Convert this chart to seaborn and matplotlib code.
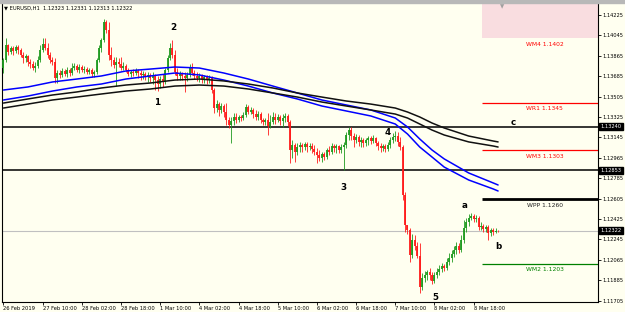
import numpy as np
import pandas as pd
import seaborn as sns
from matplotlib import pyplot as plt
from matplotlib.patches import Rectangle

# EURUSD H1 candles (bar 0 = 26 Feb 2019 18:00)
first_open = 1.13757
close = [
    1.13828, 1.13960, 1.13898, 1.13934, 1.13907, 1.13943, 1.13916, 1.13872, 1.13846, 1.13863,
    1.13810, 1.13793, 1.13757, 1.13775, 1.13828, 1.13916, 1.13969, 1.13934, 1.13872, 1.13828,
    1.13810, 1.13669, 1.13713, 1.13696, 1.13731, 1.13704, 1.13740, 1.13713, 1.13757, 1.13775,
    1.13740, 1.13766, 1.13740, 1.13749, 1.13722, 1.13740, 1.13704, 1.13722, 1.13828, 1.13934,
    1.14004, 1.14163, 1.14093, 1.13872, 1.13828, 1.13784, 1.13810, 1.13793, 1.13757, 1.13775,
    1.13740, 1.13704, 1.13722, 1.13713, 1.13731, 1.13713, 1.13696, 1.13704, 1.13687, 1.13696,
    1.13669, 1.13687, 1.13651, 1.13616, 1.13660, 1.13634, 1.13740, 1.13846, 1.13934, 1.13872,
    1.13722, 1.13687, 1.13704, 1.13687, 1.13669, 1.13696, 1.13757, 1.13713, 1.13687, 1.13669,
    1.13687, 1.13660, 1.13678, 1.13651, 1.13669, 1.13563, 1.13405, 1.13439, 1.13387, 1.13422,
    1.13369, 1.13299, 1.13254, 1.13290, 1.13325, 1.13299, 1.13325, 1.13316, 1.13343, 1.13413,
    1.13369, 1.13387, 1.13351, 1.13325, 1.13351, 1.13299, 1.13281, 1.13299, 1.13246, 1.13281,
    1.13325, 1.13299, 1.13325, 1.13290, 1.13316, 1.13334, 1.13281, 1.13034, 1.13078, 1.13016,
    1.13060, 1.13078, 1.13060, 1.13087, 1.13060, 1.13069, 1.13043, 1.13016, 1.12990, 1.12963,
    1.12999, 1.12972, 1.13034, 1.13016, 1.13069, 1.13052, 1.13069, 1.13034, 1.13060, 1.13078,
    1.13166, 1.13210, 1.13157, 1.13122, 1.13149, 1.13105, 1.13122, 1.13096, 1.13122, 1.13140,
    1.13113, 1.13140, 1.13096, 1.13069, 1.13052, 1.13069, 1.13043, 1.13078, 1.13122, 1.13149,
    1.13157, 1.13105, 1.13060, 1.12637, 1.12372, 1.12328, 1.12107, 1.12240, 1.12187, 1.12098,
    1.11825, 1.11904, 1.11931, 1.11957, 1.11931, 1.11878, 1.11931, 1.11957, 1.11984, 1.12010,
    1.11992, 1.12045, 1.12081, 1.12116, 1.12151, 1.12187, 1.12151, 1.12240, 1.12346, 1.12398,
    1.12434, 1.12451, 1.12425, 1.12434, 1.12354, 1.12363, 1.12337, 1.12354, 1.12302, 1.12328,
    1.12310, 1.12323, 1.12322,
]
high = [
    1.13846, 1.14022, 1.13969, 1.13951, 1.13951, 1.13960, 1.13960, 1.13934, 1.13898, 1.13881,
    1.13872, 1.13837, 1.13819, 1.13810, 1.13863, 1.13960, 1.14022, 1.14022, 1.13978, 1.13898,
    1.13854, 1.13846, 1.13740, 1.13740, 1.13757, 1.13749, 1.13766, 1.13757, 1.13801, 1.13801,
    1.13793, 1.13793, 1.13784, 1.13775, 1.13766, 1.13757, 1.13757, 1.13740, 1.13846, 1.13960,
    1.14022, 1.14190, 1.14181, 1.14163, 1.13943, 1.13854, 1.13854, 1.13846, 1.13854, 1.13810,
    1.13793, 1.13757, 1.13740, 1.13749, 1.13757, 1.13749, 1.13740, 1.13731, 1.13722, 1.13722,
    1.13713, 1.13722, 1.13704, 1.13687, 1.13687, 1.13704, 1.13757, 1.13872, 1.13978, 1.14004,
    1.13916, 1.13757, 1.13731, 1.13722, 1.13722, 1.13722, 1.13793, 1.13801, 1.13740, 1.13722,
    1.13713, 1.13704, 1.13696, 1.13696, 1.13696, 1.13687, 1.13581, 1.13475, 1.13457, 1.13448,
    1.13439, 1.13448, 1.13325, 1.13325, 1.13360, 1.13360, 1.13343, 1.13343, 1.13369, 1.13439,
    1.13431, 1.13413, 1.13404, 1.13387, 1.13378, 1.13369, 1.13316, 1.13316, 1.13360, 1.13343,
    1.13369, 1.13360, 1.13351, 1.13343, 1.13351, 1.13360, 1.13351, 1.13299, 1.13122, 1.13096,
    1.13096, 1.13105, 1.13096, 1.13105, 1.13105, 1.13096, 1.13096, 1.13078, 1.13052, 1.13034,
    1.13016, 1.13016, 1.13052, 1.13069, 1.13096, 1.13087, 1.13087, 1.13078, 1.13087, 1.13105,
    1.13193, 1.13237, 1.13237, 1.13184, 1.13175, 1.13166, 1.13149, 1.13140, 1.13140, 1.13157,
    1.13157, 1.13166, 1.13149, 1.13113, 1.13096, 1.13087, 1.13087, 1.13105, 1.13149, 1.13184,
    1.13202, 1.13193, 1.13149, 1.13078, 1.12663, 1.12372, 1.12346, 1.12293, 1.12284, 1.12222,
    1.12213, 1.11948, 1.11966, 1.11975, 1.11992, 1.11957, 1.11957, 1.11992, 1.12019, 1.12037,
    1.12028, 1.12081, 1.12125, 1.12151, 1.12187, 1.12222, 1.12213, 1.12284, 1.12416, 1.12434,
    1.12469, 1.12478, 1.12469, 1.12460, 1.12451, 1.12398, 1.12381, 1.12372, 1.12372, 1.12346,
    1.12346, 1.12346, 1.12331,
]
low = [
    1.13713, 1.13810, 1.13872, 1.13881, 1.13872, 1.13890, 1.13881, 1.13854, 1.13801, 1.13810,
    1.13775, 1.13757, 1.13740, 1.13722, 1.13757, 1.13810, 1.13898, 1.13916, 1.13846, 1.13801,
    1.13784, 1.13625, 1.13625, 1.13669, 1.13678, 1.13687, 1.13678, 1.13687, 1.13696, 1.13740,
    1.13722, 1.13713, 1.13722, 1.13713, 1.13704, 1.13704, 1.13678, 1.13678, 1.13704, 1.13810,
    1.13898, 1.13987, 1.14066, 1.13828, 1.13775, 1.13757, 1.13598, 1.13766, 1.13740, 1.13740,
    1.13722, 1.13687, 1.13678, 1.13687, 1.13696, 1.13669, 1.13651, 1.13660, 1.13651, 1.13634,
    1.13634, 1.13616, 1.13563, 1.13554, 1.13581, 1.13590, 1.13616, 1.13722, 1.13828, 1.13846,
    1.13696, 1.13651, 1.13651, 1.13651, 1.13546, 1.13643, 1.13678, 1.13696, 1.13660, 1.13643,
    1.13634, 1.13625, 1.13625, 1.13616, 1.13625, 1.13537, 1.13360, 1.13369, 1.13334, 1.13360,
    1.13325, 1.13254, 1.13228, 1.13096, 1.13254, 1.13272, 1.13281, 1.13290, 1.13299, 1.13325,
    1.13351, 1.13351, 1.13316, 1.13299, 1.13299, 1.13272, 1.13254, 1.13254, 1.13166, 1.13228,
    1.13263, 1.13263, 1.13281, 1.13254, 1.13237, 1.13281, 1.13246, 1.12919, 1.12963, 1.12928,
    1.12990, 1.13016, 1.13016, 1.13034, 1.13016, 1.13034, 1.13008, 1.12990, 1.12919, 1.12937,
    1.12928, 1.12946, 1.12955, 1.12990, 1.12999, 1.13016, 1.13008, 1.13008, 1.13008, 1.12857,
    1.13052, 1.13122, 1.13122, 1.13060, 1.13096, 1.13069, 1.13060, 1.13060, 1.13069, 1.13078,
    1.13087, 1.13096, 1.13069, 1.13034, 1.13016, 1.13025, 1.13016, 1.13025, 1.13052, 1.13096,
    1.13113, 1.13069, 1.13034, 1.12593, 1.12310, 1.12293, 1.12045, 1.12081, 1.12151, 1.12081,
    1.11772, 1.11799, 1.11869, 1.11887, 1.11887, 1.11852, 1.11860, 1.11904, 1.11931, 1.11957,
    1.11966, 1.11975, 1.12019, 1.12045, 1.12089, 1.12116, 1.12125, 1.12134, 1.12213, 1.12310,
    1.12363, 1.12416, 1.12398, 1.12398, 1.12328, 1.12328, 1.12310, 1.12310, 1.12240, 1.12275,
    1.12284, 1.12302, 1.12313,
]

# moving average bands, read at a few bars
ma_bars = [0, 10, 20, 30, 40, 50, 60, 70, 80, 90, 100, 110, 120, 130, 140, 150, 160, 165, 170, 175, 180, 190, 200, 202]
blue_up = [1.13563, 1.13590, 1.13634, 1.13660, 1.13687, 1.13731, 1.13748, 1.13766, 1.13757, 1.13713, 1.13660, 1.13598,
           1.13537, 1.13475, 1.13431, 1.13387, 1.13316, 1.13237, 1.13131, 1.13034, 1.12955, 1.12831, 1.12743, 1.12725]
blue_lo = [1.13475, 1.13510, 1.13554, 1.13590, 1.13616, 1.13660, 1.13687, 1.13713, 1.13696, 1.13651, 1.13598, 1.13537,
           1.13484, 1.13422, 1.13378, 1.13334, 1.13263, 1.13175, 1.13060, 1.12972, 1.12883, 1.12769, 1.12690, 1.12672]
black_up = [1.13448, 1.13484, 1.13519, 1.13546, 1.13581, 1.13607, 1.13625, 1.13651, 1.13660, 1.13643, 1.13616, 1.13581,
            1.13537, 1.13501, 1.13466, 1.13439, 1.13404, 1.13369, 1.13325, 1.13272, 1.13228, 1.13157, 1.13113, 1.13105]
black_lo = [1.13404, 1.13439, 1.13475, 1.13501, 1.13528, 1.13554, 1.13572, 1.13598, 1.13607, 1.13598, 1.13572, 1.13537,
            1.13501, 1.13457, 1.13422, 1.13387, 1.13351, 1.13316, 1.13263, 1.13210, 1.13166, 1.13105, 1.13069, 1.13060]

# weekly pivots
pivot_names = ['WM4', 'WR1', 'WM3', 'WPP', 'WM2']
pivot_values = [1.1402, 1.1345, 1.1303, 1.1260, 1.1203]
pivot_colors = ['#ff0000', '#ff0000', '#ff0000', '#000000', '#008000']

level_lines = [1.13240, 1.12853]
bid = 1.12322

wave_labels = ['1', '2', '3', '4', '5', 'a', 'b', 'c']
wave_bars = [62.8, 69.3, 139.0, 157.0, 176.5, 188.3, 202.2, 208.3]
wave_prices = [1.13457, 1.14119, 1.12707, 1.13184, 1.11728, 1.12540, 1.12178, 1.13272]

date_labels = ['26 Feb 2019', '27 Feb 10:00', '28 Feb 02:00', '28 Feb 18:00', '1 Mar 10:00', '4 Mar 02:00',
               '4 Mar 18:00', '5 Mar 10:00', '6 Mar 02:00', '6 Mar 18:00', '7 Mar 10:00', '8 Mar 02:00', '8 Mar 18:00']
price_ticks = [1.14225, 1.14045, 1.13865, 1.13685, 1.13505, 1.13325, 1.13145, 1.12965,
               1.12785, 1.12605, 1.12425, 1.12245, 1.12065, 1.11885, 1.11705]

bg = '#fffff0'
green = '#1f9a1f'
red = '#ff1a1a'
small = 3.7

sns.set_style('white')
plt.rcParams['font.family'] = ['DejaVu Sans']

fig = plt.figure(figsize=(6.25, 3.12), dpi=100, facecolor=bg)
ax = fig.add_axes([2 / 625, 10 / 312, 596 / 625, 298 / 312])
ax.set_facecolor(bg)
x_right = 242.8
ax.set_xlim(-0.6, x_right)
ax.set_ylim(1.116925, 1.14322)

# pivot zone and lines
piv_start = 195.3
ax.fill_between([piv_start, x_right], pivot_values[0], 1.14322, color='#f9dde0', lw=0, zorder=0)
for name, val, c in zip(pivot_names, pivot_values, pivot_colors):
    if name != 'WM4':
        ax.hlines(val, piv_start, x_right, color=c, lw=2.0 if name == 'WPP' else 0.9, zorder=2)
    ax.annotate('%s %.4f' % (name, val), (221, val), xytext=(0, -2.5), textcoords='offset points',
                ha='center', va='top', fontsize=4.3, color=c if name != 'WPP' else '#222222')

for v in level_lines:
    ax.axhline(v, color='black', lw=1.1, zorder=2)
ax.axhline(bid, color='#c0c0c0', lw=0.8, zorder=1)

# candles
opn = np.array([first_open] + close[:-1])
cls = np.array(close)
bars = np.arange(len(cls))
col = np.where(cls >= opn, green, red)
ax.vlines(bars, low, high, colors=col, lw=0.6, zorder=3)
ax.vlines(bars, np.minimum(opn, cls), np.maximum(opn, cls), colors=col, lw=1.3, zorder=3)

# moving average bands
ma = pd.DataFrame({
    'bar': ma_bars * 4,
    'price': blue_up + blue_lo + black_up + black_lo,
    'line': ['bu'] * len(ma_bars) + ['bl'] * len(ma_bars) + ['ku'] * len(ma_bars) + ['kl'] * len(ma_bars),
})
sns.lineplot(data=ma, x='bar', y='price', hue='line', sort=False, legend=False, ax=ax, lw=1.1, zorder=4,
             palette={'bu': '#0000ff', 'bl': '#0000ff', 'ku': '#111111', 'kl': '#111111'})
ax.set_xlabel('')
ax.set_ylabel('')

for t, b, p in zip(wave_labels, wave_bars, wave_prices):
    ax.text(b, p, t, ha='center', va='center', fontsize=6.3, fontweight='bold', color='black', zorder=5)

# axes styling
ax.yaxis.tick_right()
ax.set_yticks(price_ticks)
ax.set_yticklabels(['%.5f' % v for v in price_ticks])
ax.set_xticks(range(0, 16 * len(date_labels), 16))
ax.set_xticklabels(date_labels)
for lab in ax.get_xticklabels():
    lab.set_ha('left')
ax.tick_params(axis='y', right=True, length=2, width=0.6, pad=1.5, labelsize=small, colors='black')
ax.tick_params(axis='x', bottom=True, length=2, width=0.6, pad=1.2, labelsize=small, colors='black')
for s in ['left', 'bottom', 'right']:
    ax.spines[s].set_color('black')
    ax.spines[s].set_linewidth(0.8)
ax.spines['top'].set_visible(False)

for v in level_lines + [bid]:
    ax.text(1.004, v, '%.5f' % v, transform=ax.get_yaxis_transform(), ha='left', va='center',
            fontsize=small, color='white', bbox=dict(facecolor='black', edgecolor='black', pad=0.8))

ax.text(0.004, 0.986, '\u25bc EURUSD,H1  1.12323 1.12331 1.12313 1.12322', transform=ax.transAxes,
        ha='left', va='center', fontsize=small, color='black')
ax.text(203.8, 1.0, '\u25bc', transform=ax.get_xaxis_transform(), ha='center', va='top', fontsize=4, color='#a0a0a0')

fig.add_artist(Rectangle((0, 1 - 3 / 312), 1, 3 / 312, transform=fig.transFigure, color='#b8b8b8'))

fig.savefig('out.png', dpi=100, facecolor=bg)
